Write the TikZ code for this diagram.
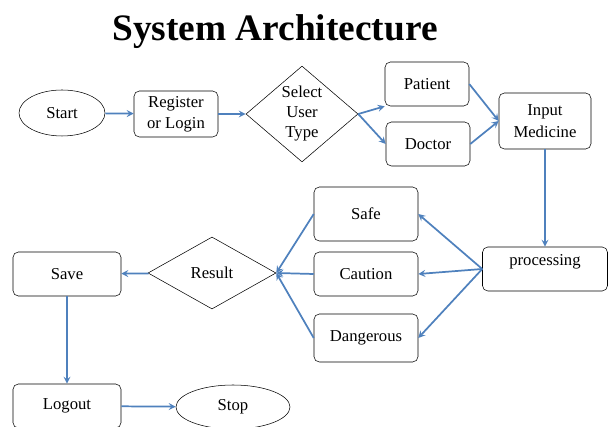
\documentclass[tikz,border=0pt]{standalone}
\usepackage{fontspec}
\setmainfont{Liberation Serif}
\usetikzlibrary{shapes.geometric}
\definecolor{flowblue}{RGB}{79,129,189}
\begin{document}
\begin{tikzpicture}[x=0.75pt,y=-0.75pt,
  box/.style={rectangle,draw=black,rounded corners=4pt,align=center,font=\fontsize{12.5}{16}\selectfont},
  term/.style={ellipse,draw=black,font=\fontsize{12.5}{14}\selectfont},
  choice/.style={diamond,draw=black,align=center,inner sep=0pt,font=\fontsize{12.5}{15}\selectfont},
  flow/.style={->,>=stealth,draw=flowblue,line width=1.3pt}]
\useasboundingbox (0,0) rectangle (608,427);
\node[font=\bfseries\fontsize{28}{30}\selectfont] (T) at (275,32) {System Architecture};
\node[term,minimum width=86*0.75pt,minimum height=46*0.75pt] (S) at (62,113) {Start};
\node[box,minimum width=84*0.75pt,minimum height=46*0.75pt] (R) at (176,114) {Register\\or Login};
\node[choice,minimum width=112*0.75pt,minimum height=88*0.75pt] (U) at (302,114) {Select\\User\\Type};
\node[box,minimum width=84*0.75pt,minimum height=44*0.75pt] (P) at (427,84) {Patient};
\node[box,minimum width=84*0.75pt,minimum height=44*0.75pt] (D) at (428,144) {Doctor};
\node[box,minimum width=92*0.75pt,minimum height=56*0.75pt] (I) at (545,121) {Input\\Medicine};
\node[box,minimum width=125*0.75pt,minimum height=44*0.75pt,text depth=14pt] (PR) at (545,269) {processing};
\node[box,minimum width=104*0.75pt,minimum height=54*0.75pt] (SF) at (366,214) {Safe};
\node[box,minimum width=104*0.75pt,minimum height=44*0.75pt] (CA) at (366,274) {Caution};
\node[box,minimum width=104*0.75pt,minimum height=48*0.75pt] (DG) at (366,338) {Dangerous};
\node[choice,minimum width=128*0.75pt,minimum height=72*0.75pt] (RE) at (212,273) {Result};
\node[box,minimum width=108*0.75pt,minimum height=44*0.75pt] (SV) at (67,274) {Save};
\node[box,minimum width=108*0.75pt,minimum height=44*0.75pt] (LO) at (67,406) {Logout};
\node[term,minimum width=114*0.75pt,minimum height=44*0.75pt] (ST) at (233,407) {Stop};
% top row
\draw[flow] (S) -- (R);
\draw[flow] (R) -- (U);
\draw[flow] (U.east) -- (P.south west);
\draw[flow] (U.east) -- (D.west);
\draw[flow] (P.east) -- (I.west);
\draw[flow] (D.east) -- (I.west);
\draw[flow] (I) -- (PR);
% results
\draw[flow] (PR.west) -- (SF.east);
\draw[flow] (PR.west) -- (CA.east);
\draw[flow] (PR.west) -- (DG.east);
\draw[flow] (SF.west) -- (RE.east);
\draw[flow] (CA.west) -- (RE.east);
\draw[flow] (DG.west) -- (RE.east);
\draw[flow] (RE) -- (SV);
\draw[flow] (SV) -- (LO);
\draw[flow] (LO) -- (ST);
\end{tikzpicture}
\end{document}
